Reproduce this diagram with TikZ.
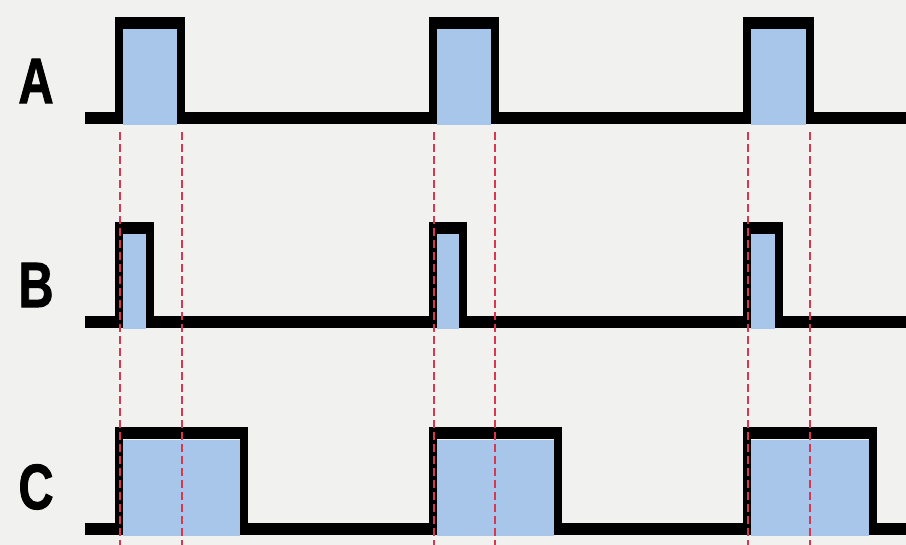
\documentclass[tikz,border=0pt]{standalone}
\usepackage{fontspec}
\setmainfont{Liberation Sans}
\newfontfamily\labelfont[FakeBold=1.6]{Liberation Sans Bold}
\definecolor{bg}{HTML}{F1F1F0}
\definecolor{pulsefill}{HTML}{A8C6EA}
\definecolor{guide}{HTML}{D8384F}
\begin{document}
\begin{tikzpicture}[x=1pt,y=-1pt,
  hline/.style={line width=12pt,line cap=butt},
  vline/.style={line width=8pt,line cap=butt},
  guideline/.style={guide,line width=2.2pt,dash pattern=on 8pt off 4pt},
  siglabel/.style={font=\labelfont\fontsize{64}{64}\selectfont,xscale=0.76,inner sep=0pt,anchor=center}]
\useasboundingbox (0,0) rectangle (906,545);
\fill[bg] (0,0) rectangle (906,545);
% labels
\node[siglabel] (la) at (36,81) {A};
\node[siglabel] (lb) at (36,285) {B};
\node[siglabel] (lc) at (36,487) {C};
% fills
\foreach \s/\w in {119/62,433/62,747/63}{
  \fill[pulsefill] (\s+4,29) rectangle (\s+\w-4,125);}
\foreach \s/\w in {119/31,433/30,747/32}{
  \fill[pulsefill] (\s+4,234) rectangle (\s+\w-4,329);}
\foreach \s/\w in {119/125,433/125,747/126}{
  \fill[pulsefill] (\s+4,440) rectangle (\s+\w-4,536);}
% signals
\foreach \top/\base/\wa/\wb/\wc in {23/118/62/62/63, 228/322/31/30/32, 433/529/125/125/126}{
  \draw[hline] (85,\base) -- (119-4,\base);
  \draw[hline] (119-4,\top) -- (119+\wa+4,\top);
  \draw[hline] (119+\wa-4,\base) -- (433+4,\base);
  \draw[hline] (433-4,\top) -- (433+\wb+4,\top);
  \draw[hline] (433+\wb-4,\base) -- (747+4,\base);
  \draw[hline] (747-4,\top) -- (747+\wc+4,\top);
  \draw[hline] (747+\wc-4,\base) -- (906,\base);
  \foreach \s/\w in {119/\wa,433/\wb,747/\wc}{
    \draw[vline] (\s,\top-6) -- (\s,\base+6);
    \draw[vline] (\s+\w,\top-6) -- (\s+\w,\base+6);}
}
% guides
\foreach \x in {120,182,434,495,748,810}{
  \coordinate (g\x a) at (\x,132);
  \coordinate (g\x b) at (\x,545);
  \draw[guideline] (g\x a) -- (g\x b);}
\end{tikzpicture}
\end{document}
